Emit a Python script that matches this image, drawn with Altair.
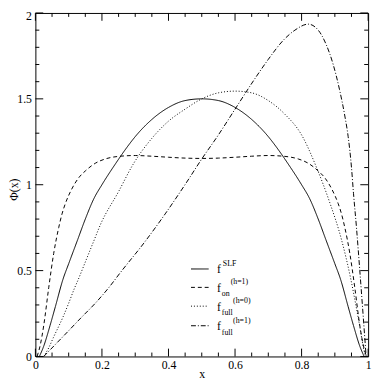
import altair as alt
import pandas as pd

# ---------------- data ----------------
series_names = ["SLF", "on_h1", "full_h0", "full_h1"]

slf_x = [0.012, 0.025, 0.044, 0.06, 0.083, 0.1, 0.127, 0.15, 0.176, 0.2, 0.24, 0.276, 0.3, 0.35, 0.4, 0.45, 0.5,
         0.55, 0.6, 0.65, 0.7, 0.724, 0.76, 0.8, 0.824, 0.85, 0.873, 0.9, 0.917, 0.94, 0.956, 0.975, 0.988]
slf_y = [0.0, 0.06, 0.18, 0.29, 0.45, 0.54, 0.68, 0.80, 0.92, 1.00, 1.12, 1.22, 1.28, 1.38, 1.45, 1.49, 1.50,
         1.49, 1.45, 1.38, 1.28, 1.22, 1.12, 1.00, 0.92, 0.80, 0.68, 0.54, 0.45, 0.29, 0.18, 0.06, 0.0]

on_x = [0.005, 0.015, 0.025, 0.04, 0.055, 0.07, 0.08, 0.09, 0.108, 0.13, 0.15, 0.18, 0.21, 0.25, 0.3, 0.35, 0.4,
        0.45, 0.5, 0.55, 0.6, 0.65, 0.7, 0.75, 0.79, 0.82, 0.85, 0.87, 0.892, 0.91, 0.92, 0.93, 0.945, 0.96,
        0.975, 0.985, 0.995]
on_y = [0.0, 0.07, 0.18, 0.40, 0.60, 0.75, 0.83, 0.89, 0.97, 1.04, 1.08, 1.125, 1.15, 1.165, 1.17, 1.166, 1.16,
        1.155, 1.153, 1.155, 1.16, 1.166, 1.17, 1.165, 1.15, 1.125, 1.08, 1.04, 0.97, 0.89, 0.83, 0.75, 0.60, 0.40,
        0.18, 0.07, 0.0]

full0_x = [0.025, 0.04, 0.054, 0.083, 0.1, 0.118, 0.127, 0.15, 0.175, 0.196, 0.25, 0.294, 0.35, 0.4, 0.45, 0.5,
           0.55, 0.6, 0.65, 0.7, 0.75, 0.8, 0.845, 0.884, 0.92, 0.948, 0.965, 0.977, 0.985, 0.992]
full0_y = [0.0, 0.05, 0.11, 0.23, 0.31, 0.40, 0.44, 0.55, 0.67, 0.77, 0.96, 1.12, 1.27, 1.37, 1.44, 1.50,
           1.535, 1.545, 1.535, 1.49, 1.41, 1.29, 1.10, 0.90, 0.68, 0.45, 0.28, 0.15, 0.06, 0.0]

full1_x = [0.025, 0.06, 0.1, 0.137, 0.18, 0.216, 0.26, 0.324, 0.39, 0.453, 0.5, 0.55, 0.6, 0.664, 0.7, 0.747,
           0.78, 0.82, 0.85, 0.874, 0.895, 0.914, 0.93, 0.94, 0.95, 0.956, 0.965, 0.975, 0.985, 0.994]
full1_y = [0.0, 0.07, 0.15, 0.225, 0.31, 0.39, 0.50, 0.655, 0.83, 1.01, 1.15, 1.29, 1.44, 1.63, 1.73, 1.845,
           1.90, 1.935, 1.90, 1.816, 1.70, 1.554, 1.40, 1.28, 1.10, 0.95, 0.75, 0.50, 0.24, 0.0]

x_major = [0, 0.2, 0.4, 0.6, 0.8, 1.0]
x_minor = [0.05, 0.1, 0.15, 0.25, 0.3, 0.35, 0.45, 0.5, 0.55, 0.65, 0.7, 0.75, 0.85, 0.9, 0.95]
y_major = [0, 0.5, 1.0, 1.5, 2.0]
y_minor = [0.1, 0.2, 0.3, 0.4, 0.6, 0.7, 0.8, 0.9, 1.1, 1.2, 1.3, 1.4, 1.6, 1.7, 1.8, 1.9]

legend_sup = ["SLF", "(h=1)", "(h=0)", "(h=1)"]
legend_sub = ["", "on", "full", "full"]

# ---------------- build ----------------
rows = []
for name, xs_, ys_ in zip(series_names, [slf_x, on_x, full0_x, full1_x], [slf_y, on_y, full0_y, full1_y]):
    for a, b in zip(xs_, ys_):
        rows.append({"series": name, "x": a, "y": b})
df = pd.DataFrame(rows)

W, H = 340, 351
FONT = "Liberation Serif"
dash_range = [[1, 0], [4, 3], [1, 2], [5, 2, 1, 2]]

xs = alt.Scale(domain=[0, 1], nice=False, zero=False)
ys = alt.Scale(domain=[0, 2], nice=False, zero=False)

x_axis = alt.Axis(
    values=x_major, format="~g", title="x", ticks=False, tickSize=0, domain=False, grid=False,
    labelFont=FONT, labelFontSize=12, labelPadding=3, labelColor="black", labelFlush=False,
    titleFont=FONT, titleFontSize=12, titleFontWeight="normal", titleColor="black",
    titleY=21, titleBaseline="alphabetic")
y_axis = alt.Axis(
    values=y_major, format="~g", title="Φ(x)", ticks=False, tickSize=0, domain=False, grid=False,
    labelFont=FONT, labelFontSize=12, labelPadding=4, labelColor="black", labelFlush=False,
    labelOffset={"condition": {"test": "datum.value == 2", "value": 3}, "value": 0},
    titleFont=FONT, titleFontSize=12, titleFontWeight="normal", titleColor="black",
    titleX=-18, titleY=180, titleBaseline="alphabetic", titleAngle=-90)

lines = alt.Chart(df).mark_line(color="black", strokeWidth=1, interpolate="monotone").encode(
    x=alt.X("x:Q", scale=xs, axis=x_axis, title="x"),
    y=alt.Y("y:Q", scale=ys, axis=y_axis, title="Φ(x)"),
    strokeDash=alt.StrokeDash("series:N", scale=alt.Scale(domain=series_names, range=dash_range), legend=None),
)

layers = [lines]

def xticks(vals, length):
    d = pd.DataFrame({"x": vals})
    bot = alt.Chart(d).mark_rule(color="black", strokeWidth=1).encode(
        x=alt.X("x:Q", scale=xs, axis=x_axis, title="x"), y=alt.value(H), y2=alt.value(H - length))
    top = alt.Chart(d).mark_rule(color="black", strokeWidth=1).encode(
        x=alt.X("x:Q", scale=xs, axis=x_axis, title="x"), y=alt.value(0), y2=alt.value(length))
    return [bot, top]

def yticks(vals, length):
    d = pd.DataFrame({"y": vals})
    left = alt.Chart(d).mark_rule(color="black", strokeWidth=1).encode(
        y=alt.Y("y:Q", scale=ys, axis=y_axis, title="Φ(x)"), x=alt.value(0), x2=alt.value(length))
    right = alt.Chart(d).mark_rule(color="black", strokeWidth=1).encode(
        y=alt.Y("y:Q", scale=ys, axis=y_axis, title="Φ(x)"), x=alt.value(W), x2=alt.value(W - length))
    return [left, right]

layers += xticks(x_major, 8) + xticks(x_minor, 4) + yticks(y_major, 8) + yticks(y_minor, 4)

# ---------------- hand-built legend (sub/superscripts) ----------------
one = pd.DataFrame({"a": [0]})
row_y = [261.6, 280.4, 299.6, 319.6]
sub_w = [0, 8.5, 11, 11]
for i in range(4):
    ly = row_y[i]
    layers.append(alt.Chart(one).mark_rule(color="black", strokeWidth=1, strokeDash=dash_range[i]).encode(
        x=alt.value(159), x2=alt.value(177), y=alt.value(ly)))
    layers.append(alt.Chart(one).mark_text(text="f", font=FONT, fontSize=12, align="left",
                                           baseline="alphabetic", color="black").encode(
        x=alt.value(185.5), y=alt.value(ly + 4.5)))
    if legend_sub[i]:
        layers.append(alt.Chart(one).mark_text(text=legend_sub[i], font=FONT, fontSize=8, align="left",
                                               baseline="alphabetic", color="black").encode(
            x=alt.value(190.5), y=alt.value(ly + 9)))
    sx = 191.5 if i == 0 else 191 + sub_w[i]
    layers.append(alt.Chart(one).mark_text(text=legend_sup[i], font=FONT, fontSize=8, align="left",
                                           baseline="alphabetic", color="black").encode(
        x=alt.value(sx), y=alt.value(ly - 3)))

chart = alt.layer(*layers).properties(
    width=W, height=H,
    autosize=alt.AutoSizeParams(type="none"),
    padding={"left": 28, "top": 1, "right": 6, "bottom": 22},
    background="white",
).configure_view(stroke="black", strokeWidth=1)

chart.save("out.html", embed_options={"renderer": "svg", "actions": False})
